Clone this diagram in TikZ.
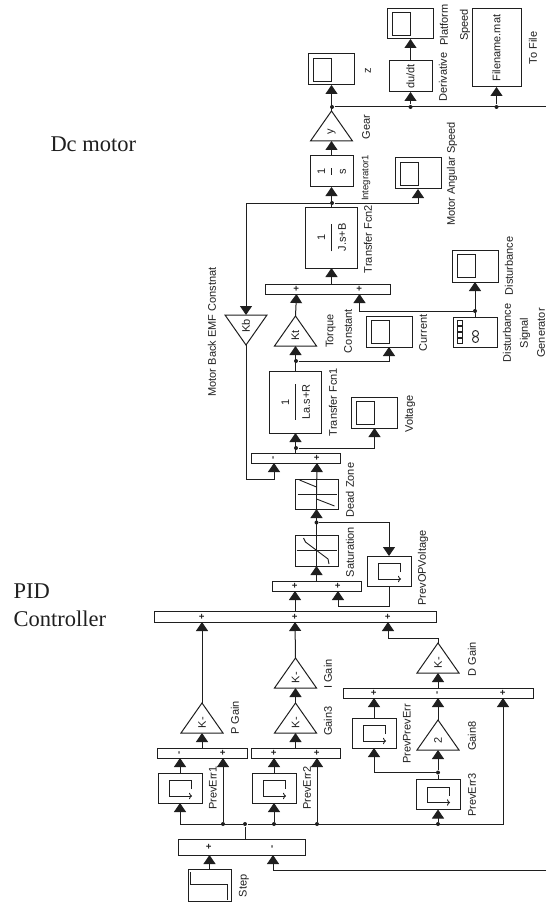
\documentclass[tikz,border=0pt]{standalone}
\usepackage{fontspec}
\usepackage{graphicx}
\setmainfont{Liberation Sans}
\newfontfamily\notefont{Liberation Serif}
\usetikzlibrary{arrows.meta,positioning,shapes.geometric}
\definecolor{ink}{gray}{0.12}

\newcommand{\tffrac}[2]{\rotatebox{90}{\renewcommand{\arraystretch}{1.7}\begin{tabular}{@{}c@{}}#1\\\hline #2\end{tabular}}}

\begin{document}
\begin{tikzpicture}[
  x=1pt, y=-1pt, line width=1pt, color=ink,
  block/.style={rectangle, draw, inner sep=0pt, outer sep=0pt, align=center,
                minimum width=43pt, minimum height=31pt, font=\fontsize{11}{12}\selectfont},
  sumbar/.style={block, minimum height=10pt},
  viewer/.style={block, minimum width=46pt, minimum height=31pt,
                 path picture={\draw[line width=0.9pt, shift={(path picture bounding box.center)}]
                   (-18pt,-11.5pt) rectangle (0pt,11.5pt);}},
  memory/.style={block, minimum width=44pt, minimum height=30pt,
                 path picture={\draw[line width=0.9pt, -{To[length=3pt]}, shift={(path picture bounding box.center)}]
                   (11pt,-1pt) -- (11pt,7.5pt) -- (-11pt,7.5pt) -- (-11pt,-8pt) -- (12pt,-8pt);}},
  gain/.style={isosceles triangle, isosceles triangle stretches, draw, rotate=90, inner sep=0pt, outer sep=0pt,
               minimum width=42pt, minimum height=30pt, font=\fontsize{11}{12}\selectfont},
  sig/.style={-{Triangle[length=9pt,width=12pt]}},
  jdot/.style={circle, fill, inner sep=0pt, minimum size=4pt},
  sign/.style={rotate=90, inner sep=0pt, font=\fontsize{9.5}{9.5}\bfseries\selectfont},
  lab/.style={rotate=90, inner sep=0pt, align=center, font=\fontsize{11}{18.5}\selectfont},
  note/.style={inner sep=0pt, anchor=base west, font=\notefont\fontsize{22.5}{24}\selectfont},
]
  \useasboundingbox (0,0) rectangle (546,904);

  % Error and the previous samples
  \node[block, minimum height=32pt,
        path picture={\draw[line width=0.9pt, shift={(path picture bounding box.center)}]
          (-19.5pt,13pt) -- (-19.5pt,1pt) -- (17.5pt,1pt) -- (17.5pt,-15pt);}] (step) at (209.5,885) {};
  \node[block, minimum width=127pt, minimum height=16pt, above=14pt of step, xshift=32pt] (errsum) {};
  \node[memory] (preverr1) at (180,788) {};
  \node[memory, right=50pt of preverr1] (preverr2) {};
  \node[memory] (preverr3) at (438,794.5) {};

  % P and I branches
  \node[sumbar, minimum width=90pt, above=15pt of preverr1, xshift=22pt] (psum) {};
  \node[sumbar, minimum width=89pt, above=15pt of preverr2, xshift=21.5pt] (isum) {};
  \node[gain, above=15pt of psum, anchor=lower side] (pgain) {K-};
  \node[gain, above=15pt of isum, anchor=lower side] (gain3) {K-};
  \node[gain, above=15pt of gain3.apex, anchor=lower side] (igain) {K-};

  % D branch
  \node[sumbar, minimum width=190pt] (dsum) at (438,693) {};
  \node[gain, below=22pt of dsum, anchor=apex] (gain8) {2};
  \node[memory] (prevprev) at (374,733) {};
  \node[gain, above=15pt of dsum, anchor=lower side] (dgain) {K-};
  \node[jdot, below=20pt of gain8.lower side] (jprev) {};

  % PID output
  \node[sumbar, minimum width=282pt, minimum height=11pt] (bigsum) at (295,616.5) {};
  \node[sumbar, minimum width=89pt, above=20pt of bigsum, xshift=21.5pt] (opsum) {};
  \node[block, above=15pt of opsum] (saturation) {};
  \node[block, minimum height=30pt, above=26pt of saturation] (deadzone) {};
  \node[memory, right=29pt of saturation, yshift=-20.5pt] (prevop) {};
  \node[jdot, above=10pt of saturation] (jsat) {};

  % Dc motor
  \node[sumbar, minimum width=89pt, above=16pt of deadzone, xshift=-21pt] (armsum) {};
  \node[block, minimum width=52pt, minimum height=62pt, above=20pt of armsum] (tf1) {\tffrac{1}{La.s+R}};
  \node[gain, above=25pt of tf1, anchor=lower side] (kt) {Kt};
  \node[sumbar, minimum width=125pt, above=22pt of kt.apex, xshift=32.5pt] (torquesum) {};
  \node[block, minimum width=52pt, minimum height=61pt, above=16pt of torquesum, xshift=3.5pt] (tf2) {\tffrac{1}{J.s+B}};
  \node[block, above=20pt of tf2] (integ) {\tffrac{1}{s}};
  \node[gain, above=15pt of integ, anchor=lower side] (gear) {y};
  \node[viewer, above=26pt of gear.apex] (zview) {};
  \node[gain, shape border rotate=180, anchor=lower side] (kb) at (246,315) {Kb};

  % Viewers and outputs
  \node[viewer] (voltage) at (374.5,412.5) {};
  \node[viewer] (current) at (389,331.5) {};
  \node[viewer] (motorview) at (418,173.5) {};
  \node[viewer, minimum height=32pt] (distview) at (475,266) {};
  \node[block, minimum width=44pt, minimum height=30pt,
        path picture={\begin{scope}[line width=0.9pt, shift={(path picture bounding box.center)}]
          \foreach \yy in {-9,-3,3,9} \draw (-17.5pt,\yy pt-2.5pt) rectangle (-12.5pt,\yy pt+2.5pt);
          \foreach \yy in {-1.5,-7.5} \draw (0.5pt,\yy pt) circle[radius=3pt];
        \end{scope}}] (siggen) at (475,332) {};
  \node[block] (deriv) at (410.5,76.5) {\rotatebox{90}{du/dt}};
  \node[viewer, minimum height=30pt, above=22pt of deriv] (platform) {};
  \node[block, minimum width=49pt, minimum height=78pt] (tofile) at (496.5,48) {\rotatebox{90}{Filename.mat}};

  % Signs on the sum bars
  \node[sign] (errp) at ([xshift=-32.5pt]errsum) {+};
  \node[sign] (errm) at ([xshift=31.5pt]errsum) {-};
  \node[sign] (pm) at ([xshift=-22pt]psum) {-};
  \node[sign] (pp) at ([xshift=21pt]psum) {+};
  \node[sign] (ip1) at ([xshift=-21.5pt]isum) {+};
  \node[sign] (ip2) at ([xshift=21.5pt]isum) {+};
  \node[sign] (dp1) at ([xshift=-64pt]dsum) {+};
  \node[sign] (dm) at (dsum) {-};
  \node[sign] (dp2) at ([xshift=65pt]dsum) {+};
  \node[sign] (bp1) at ([xshift=-93pt]bigsum) {+};
  \node[sign] (bp2) at (bigsum) {+};
  \node[sign] (bp3) at ([xshift=93pt]bigsum) {+};
  \node[sign] (op1) at ([xshift=-21.5pt]opsum) {+};
  \node[sign] (op2) at ([xshift=21.5pt]opsum) {+};
  \node[sign] (am) at ([xshift=-21.5pt]armsum) {-};
  \node[sign] (ap) at ([xshift=21.5pt]armsum) {+};
  \node[sign] (tp1) at ([xshift=-31.5pt]torquesum) {+};
  \node[sign] (tp2) at ([xshift=31.5pt]torquesum) {+};

  % Junctions
  \node[jdot] (jerr) at (245,824) {};
  \node[jdot] (jp) at (jerr -| pp) {};
  \node[jdot] (ji1) at (jerr -| preverr2) {};
  \node[jdot] (ji2) at (jerr -| ip2) {};
  \node[jdot] (jd) at (jerr -| preverr3) {};
  \node[jdot] (jv) at (296,448) {};
  \node[jdot] (jc) at (296,361) {};
  \node[jdot] (jt) at (475,311) {};
  \node[jdot] (jw) at (332,203) {};
  \node[jdot] (jg) at (332,107) {};
  \node[jdot] (jdv) at (jg -| deriv) {};
  \node[jdot] (jtf) at (jg -| tofile) {};
  \coordinate (fbtop) at (546,107);
  \coordinate (fbbot) at (546,870);

  % Block icons
  \draw[line width=0.8pt] ([xshift=-20pt]saturation.center) -- ([xshift=20pt]saturation.center);
  \draw[line width=0.9pt] ([xshift=-13pt,yshift=12.5pt]saturation.center) -- ([xshift=-11pt,yshift=8.5pt]saturation.center)
    -- ([xshift=11.5pt,yshift=-8.5pt]saturation.center) -- ([xshift=12.5pt,yshift=-13.5pt]saturation.center);
  \draw[line width=0.8pt] ([xshift=-19pt]deadzone.center) -- ([xshift=20pt]deadzone.center);
  \draw[line width=0.9pt] ([xshift=-17pt,yshift=14pt]deadzone.center) -- ([yshift=7pt]deadzone.center);
  \draw[line width=0.9pt] ([yshift=-5pt]deadzone.center) -- ([xshift=18pt,yshift=-12pt]deadzone.center);

  % Flow arrows
  \draw[sig] (step.north) -- (step.north |- errsum.south);
  \draw[sig] (fbbot) -| (errsum.south -| errm);
  \draw (errsum.north -| jerr) -- (jerr);
  \draw[sig] (jerr) -| (preverr1.south);
  \draw[sig] (jerr) -| (dsum.south -| dp2);
  \draw[sig] (jp) -- (psum.south -| pp);
  \draw[sig] (preverr1.north) -- (preverr1.north |- psum.south);
  \draw[sig] (ji1) -- (preverr2.south);
  \draw[sig] (ji2) -- (isum.south -| ip2);
  \draw[sig] (preverr2.north) -- (preverr2.north |- isum.south);
  \draw[sig] (psum.north) -- (pgain.lower side);
  \draw[sig] (isum.north) -- (gain3.lower side);
  \draw[sig] (gain3.apex) -- (igain.lower side);
  \draw[sig] (pgain.apex) -- (bigsum.south -| bp1);
  \draw[sig] (igain.apex) -- (bigsum.south -| bp2);
  \draw[sig] (jd) -- (preverr3.north |- preverr3.south);
  \draw (preverr3.north) -- (jprev);
  \draw[sig] (jprev) -- (gain8.lower side);
  \draw[sig] (jprev) -| (prevprev.south);
  \draw[sig] (prevprev.north) -- (dsum.south -| dp1);
  \draw[sig] (gain8.apex) -- (dsum.south);
  \draw[sig] (dsum.north) -- (dgain.lower side);
  \draw[sig] (dgain.apex) -- ++(0,-5) -| (bigsum.south -| bp3);
  \draw[sig] (bigsum.north -| op1) -- (opsum.south -| op1);
  \draw[sig] (prevop.south) -- ++(0,20) -| (opsum.south -| op2);
  \draw[sig] (opsum.north) -- (saturation.south);
  \draw[sig] (saturation.center) -- (deadzone.south);
  \draw (saturation.south) -- (saturation.center);
  \draw[sig] (jsat) -| (prevop.north);
  \draw (deadzone.south) -- (deadzone.center);
  \draw[sig] (deadzone.center) -- (armsum.south -| ap);
  \draw[sig] (armsum.north) -- (tf1.south);
  \draw[sig] (jv) -| (voltage.south);
  \draw[sig] (tf1.north) -- (kt.lower side);
  \draw[sig] (jc) -| (current.south);
  \draw[sig] (kt.apex) -- (torquesum.south -| tp1);
  \draw[sig] (jt) -| (torquesum.south -| tp2);
  \draw[sig] (siggen.north) -- (distview.south);
  \draw[sig] (tf2.south |- torquesum.north) -- (tf2.south);
  \draw[sig] (tf2.north) -- (integ.south);
  \draw[sig] (jw) -| (motorview.south);
  \draw[sig] (jw) -| (kb.lower side);
  \draw[sig] (kb.apex) -- ++(0,134) -| (armsum.south -| am);
  \draw[sig] (integ.north) -- (gear.lower side);
  \draw[sig] (gear.apex) -- (zview.south);
  \draw (jg) -- (fbtop);
  \draw[sig] (jdv) -- (deriv.south);
  \draw[sig] (deriv.north) -- (platform.south);
  \draw[sig] (jtf) -- (tofile.south);

  % Labels
  \node[lab] (lstep) at (244,886) {Step};
  \node[lab] (lerr1) at (213,788) {PrevErr1};
  \node[lab] (lerr2) at (307,788) {PrevErr2};
  \node[lab] (lerr3) at (472,795) {PrevErr3};
  \node[lab] (lpg) at (235,718) {P Gain};
  \node[lab] (lg3) at (328,721) {Gain3};
  \node[lab] (lig) at (328,674) {I Gain};
  \node[lab] (ldg) at (472,659) {D Gain};
  \node[lab] (lg8) at (472,736) {Gain8};
  \node[lab] (lpp) at (407,734) {PrevPrevErr};
  \node[lab] (lop) at (423,568) {PrevOPVoltage};
  \node[lab] (lsat) at (350,552) {Saturation};
  \node[lab] (ldz) at (350,490) {Dead Zone};
  \node[lab] (lvo) at (410,414) {Voltage};
  \node[lab] (ltf1) at (333,402) {Transfer Fcn1};
  \node[lab] (lemf) at (212,332) {Motor Back EMF Constnat};
  \node[lab] (ltc) at (339,331) {Torque\\Constant};
  \node[lab] (lcu) at (423,333) {Current};
  \node[lab, font=\fontsize{11}{17}\selectfont] (lgen) at (524,333) {Disturbance\\Signal\\Generator};
  \node[lab] (ldi) at (509,266) {Disturbance};
  \node[lab] (ltf2) at (368,239) {Transfer Fcn2};
  \node[lab] (lma) at (452,174) {Motor Angular Speed};
  \node[lab, font=\fontsize{9.5}{12}\selectfont] (lint) at (366,178) {Integrator1};
  \node[lab] (lge) at (366,127) {Gear};
  \node[lab] (lz) at (368,71) {z};
  \node[lab] (lde) at (443,77) {Derivative};
  \node[lab, font=\fontsize{11}{20}\selectfont] (lpl) at (455,25) {Platform\\Speed};
  \node[lab] (ltof) at (533,48) {To File};

  \node[note] (dcnote) at (50,152) {Dc motor};
  \node[note] (pidnote) at (13,598) {PID};
  \node[note] (ctlnote) at (13,626) {Controller};
\end{tikzpicture}
\end{document}
